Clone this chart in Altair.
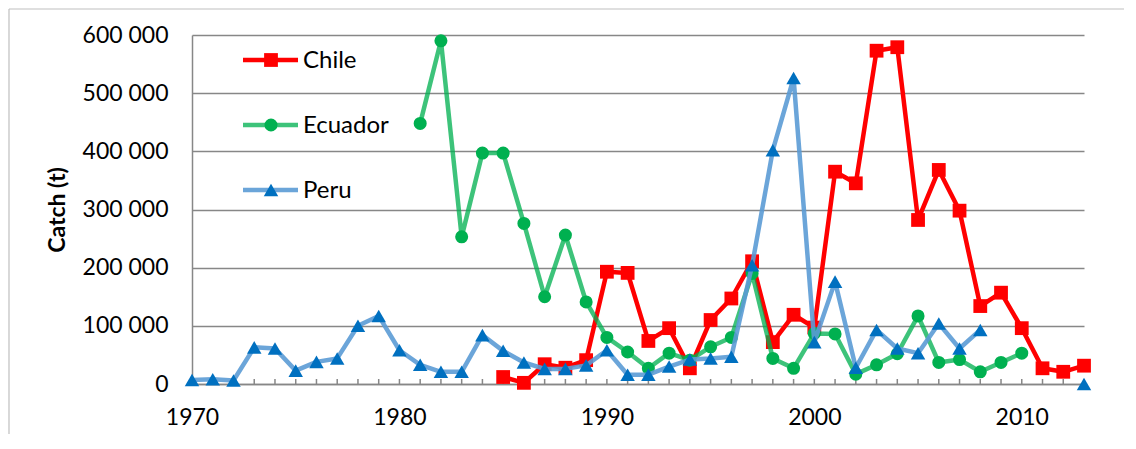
import altair as alt
import pandas as pd

# ---------------- data ----------------
chile_years = list(range(1985, 2014))
chile_catch = [12000, 2000, 34000, 28000, 41000, 193000, 191000, 74000, 96000, 27000,
               110000, 147000, 211000, 72000, 119000, 97000, 365000, 345000, 573000, 579000,
               282000, 368000, 298000, 134000, 157000, 96000, 27000, 21000, 31500]

ecuador_years = list(range(1981, 2011))
ecuador_catch = [448000, 590000, 253000, 397000, 397000, 276000, 150000, 256000, 141000, 80000,
                 55000, 27000, 53000, 41000, 64000, 80000, 190000, 44000, 27000, 87000,
                 86000, 17000, 33000, 52000, 117000, 37000, 42000, 21000, 37000, 53000]

peru_years = list(range(1970, 2009)) + [2013]
peru_catch = [7000, 8000, 6000, 63000, 61000, 23000, 38000, 44000, 100000, 117000,
              58000, 33000, 21000, 21000, 84000, 57000, 37000, 26000, 26000, 32000,
              58000, 16000, 16000, 30000, 42000, 44000, 47000, 204000, 402000, 526000,
              72000, 176000, 28000, 93000, 61000, 53000, 104000, 61000, 93000,
              0]

series_names = ["Chile", "Ecuador", "Peru"]
x_tick_labels = [1970, 1980, 1990, 2000, 2010]
y_tick_values = [0, 100000, 200000, 300000, 400000, 500000, 600000]
minor_tick_years = list(range(1971, 2014))


def frame(years, values, name):
    df = pd.DataFrame({"year": years, "catch": values, "country": name})
    df["seg"] = (df["year"].diff().fillna(1) > 1).cumsum()
    return df


df_chile = frame(chile_years, chile_catch, "Chile")
df_ecuador = frame(ecuador_years, ecuador_catch, "Ecuador")
df_peru = frame(peru_years, peru_catch, "Peru")

# ---------------- styling ----------------
W, H = 892, 349
FONT = "Lato"
GRID = "#878787"

styles = {
    "Chile": dict(line="#FF0000", line_op=1.0, mark="#FF0000", shape="square", size=190),
    "Ecuador": dict(line="#00B050", line_op=0.76, mark="#00B050", shape="circle", size=170),
    "Peru": dict(line="#5B9BD5", line_op=0.9, mark="#0070C0", shape="triangle-up", size=210),
}

x_enc = alt.X(
    "year:Q",
    scale=alt.Scale(domain=[1970, 2013], nice=False, zero=False),
    axis=alt.Axis(values=x_tick_labels, format="d", ticks=False, grid=False,
                  labelFlush=False, labelOverlap=False,
                  domainColor=GRID, domainWidth=1.5, labelFont=FONT, labelFontSize=23,
                  labelColor="black", labelPadding=22, title=None),
)
y_enc = alt.Y(
    "catch:Q",
    scale=alt.Scale(domain=[0, 600000], nice=False),
    axis=alt.Axis(values=y_tick_values,
                  labelExpr="datum.value == 0 ? '0' : format(datum.value / 1000, 'd') + ' 000'",
                  ticks=False, grid=True, gridColor=GRID, gridWidth=1.5,
                  domainColor=GRID, domainWidth=1.5, labelFlush=False,
                  labelFont=FONT, labelFontSize=23, labelColor="black", labelPadding=24,
                  title="Catch (t)", titleFont=FONT, titleFontSize=23,
                  titleFontWeight="bold", titleColor="black", titlePadding=13),
)

layers = []

# minor year ticks pointing up from the x axis
ticks = alt.Chart(pd.DataFrame({"year": minor_tick_years})).mark_rule(
    color=GRID, strokeWidth=1.5
).encode(x=alt.X("year:Q"), y=alt.value(H - 5), y2=alt.value(H))

base_axes = alt.Chart(df_chile).mark_line(opacity=0).encode(x=x_enc, y=y_enc)
layers.append(base_axes)
layers.append(ticks)

for name, df in [("Chile", df_chile), ("Ecuador", df_ecuador), ("Peru", df_peru)]:
    s = styles[name]
    line = alt.Chart(df).mark_line(
        color=s["line"], strokeWidth=4.5, opacity=s["line_op"], strokeJoin="round"
    ).encode(x="year:Q", y="catch:Q", detail="seg:N")
    pts = alt.Chart(df).mark_point(
        shape=s["shape"], filled=True, size=s["size"], color=s["mark"], opacity=1
    ).encode(x="year:Q", y="catch:Q")
    layers += [line, pts]

# legend drawn inside the plot, top-left
legend_y = {"Chile": 25, "Ecuador": 90, "Peru": 155}
for name in series_names:
    s = styles[name]
    ldf = pd.DataFrame({"name": [name]})
    yy = legend_y[name]
    layers.append(alt.Chart(ldf).mark_rule(
        color=s["line"], strokeWidth=4.5, opacity=s["line_op"]
    ).encode(x=alt.value(51), x2=alt.value(106), y=alt.value(yy)))
    layers.append(alt.Chart(ldf).mark_point(
        shape=s["shape"], filled=True, size=s["size"], color=s["mark"], opacity=1
    ).encode(x=alt.value(79), y=alt.value(yy)))
    layers.append(alt.Chart(ldf).mark_text(
        align="left", baseline="middle", font=FONT, fontSize=24, color="black"
    ).encode(x=alt.value(111), y=alt.value(yy + 1), text="name:N"))

# outer chart frame
fr = pd.DataFrame({"k": [0]})
layers.append(alt.Chart(fr).mark_rule(color="#BFBFBF", strokeWidth=1.2).encode(
    x=alt.value(-183), x2=alt.value(W + 100), y=alt.value(-26)))
layers.append(alt.Chart(fr).mark_rule(color="#BFBFBF", strokeWidth=1.2).encode(
    x=alt.value(-183), y=alt.value(-26), y2=alt.value(H + 100)))

chart = alt.layer(*layers).properties(
    width=W, height=H,
    padding={"left": 184, "top": 27, "right": 40, "bottom": 50},
    autosize=alt.AutoSizeParams(type="none"),
    background="white",
).configure_view(stroke=None)

chart.save("out.html", embed_options={"renderer": "svg", "actions": False})
